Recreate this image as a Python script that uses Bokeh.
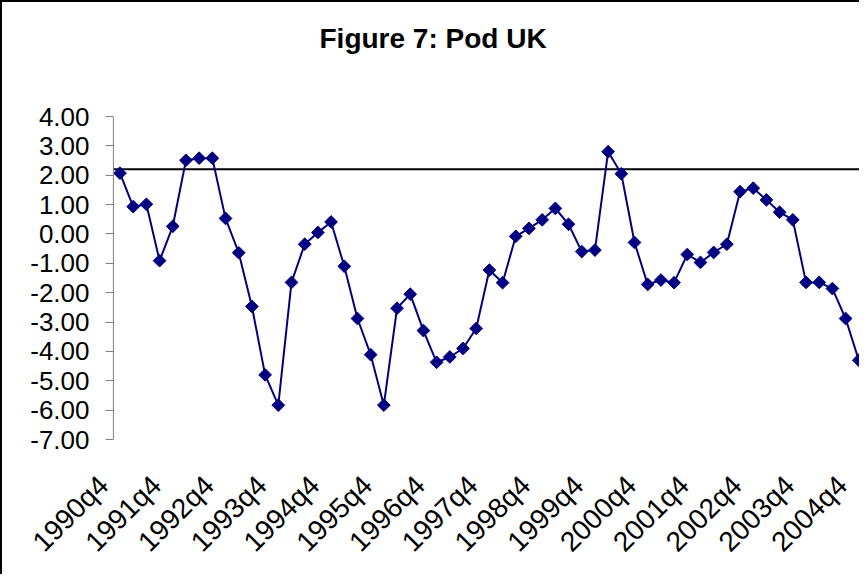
import numpy as np
from bokeh.plotting import figure
from bokeh.models import Range1d, FixedTicker, Span, Title
from bokeh.embed import file_html
from bokeh.resources import INLINE

# ---- data ----
quarters = [f"{y}q{q}" for y in range(1990, 2005) for q in range(1, 5)][3:]
pod_uk = [2.07, 0.93, 1.01, -0.91, 0.26, 2.51, 2.58, 2.58, 0.53, -0.64,
          -2.47, -4.80, -5.83, -1.65, -0.35, 0.05, 0.41, -1.10, -2.88, -4.11,
          -5.83, -2.53, -2.05, -3.29, -4.37, -4.19, -3.90, -3.22, -1.23, -1.66,
          -0.08, 0.19, 0.48, 0.87, 0.33, -0.60, -0.55, 2.80, 2.05, -0.29,
          -1.72, -1.57, -1.66, -0.70, -0.97, -0.63, -0.35, 1.44, 1.56, 1.16,
          0.74, 0.48, -1.65, -1.65, -1.86, -2.88, -4.30]
quarters = quarters[:len(pod_uk)]
tick_labels = ["1990q4", "1991q4", "1992q4", "1993q4", "1994q4", "1995q4",
               "1996q4", "1997q4", "1998q4", "1999q4", "2000q4", "2001q4",
               "2002q4", "2003q4", "2004q4"]
y_ticks = [4, 3, 2, 1, 0, -1, -2, -3, -4, -5, -6, -7]
threshold = 2.2

x = list(range(len(pod_uk)))
label_shift = 1.25  # rotated labels sit a little left of their quarter
tick_pos = [quarters.index(t) - label_shift for t in tick_labels]
axis_x = -0.5        # value axis sits half a category left of the first point
x_start, x_end = -label_shift, 56.13

p = figure(width=859, height=574, output_backend="svg", toolbar_location=None,
           x_range=Range1d(x_start, x_end), y_range=Range1d(-7, 4),
           min_border_left=101, min_border_right=1, min_border_top=114,
           min_border_bottom=137,
           styles={"border-left": "2px solid black", "border-top": "2px solid black"})
p.outline_line_color = None
p.grid.visible = False
p.background_fill_color = "white"

# spacer between the plot area and the title
spacer = Title(text=" ", text_font_size="10px", standoff=36)
p.add_layout(spacer, "above")
title = Title(text="Figure 7: Pod UK", text_font="Liberation Sans", text_font_size="28px",
              text_font_style="bold", text_color="black", align="left", offset=216,
              standoff=28)
p.add_layout(title, "above")

# y axis (line drawn as a span at the first category edge)
p.yaxis.ticker = FixedTicker(ticks=y_ticks)
p.yaxis.major_label_overrides = {v: f"{v:.2f}" for v in y_ticks}
p.yaxis.axis_line_color = None
p.yaxis.major_tick_line_color = "#808080"
p.yaxis.major_tick_out = -2
p.yaxis.major_tick_in = 10
p.yaxis.minor_tick_line_color = None
p.yaxis.major_label_text_font = "Liberation Sans"
p.yaxis.major_label_text_font_size = "26px"
p.yaxis.major_label_text_color = "black"
p.yaxis.major_label_standoff = 14
p.add_layout(Span(location=axis_x, dimension="height", line_color="#808080", line_width=1))

# x axis
p.xaxis.ticker = FixedTicker(ticks=tick_pos)
p.xaxis.major_label_overrides = {tp: lab for tp, lab in zip(tick_pos, tick_labels)}
p.xaxis.axis_line_color = None
p.xaxis.major_tick_line_color = None
p.xaxis.minor_tick_line_color = None
p.xaxis.major_label_orientation = np.pi / 4
p.xaxis.major_label_text_font = "Liberation Sans"
p.xaxis.major_label_text_font_size = "28px"
p.xaxis.major_label_text_color = "black"
p.xaxis.major_label_standoff = 35

p.segment(x0=[axis_x], y0=[threshold], x1=[x_end], y1=[threshold],
          line_color="black", line_width=2)

p.line(x, pod_uk, line_color="#000080", line_width=2)
p.scatter(x, pod_uk, marker="square", angle=np.pi / 4, size=9,
          fill_color="#000080", line_color="#000080")

open("out.html", "w").write(file_html(p, INLINE))
